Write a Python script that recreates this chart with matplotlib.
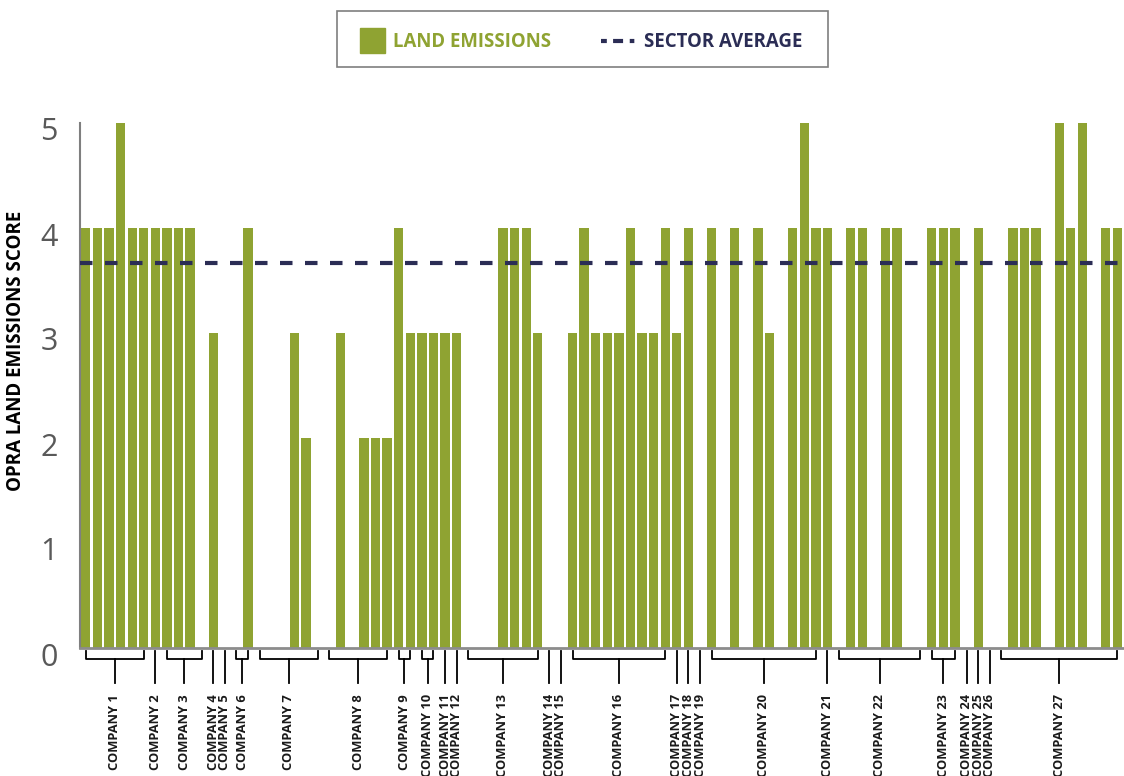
import matplotlib.pyplot as plt
from matplotlib.patches import Rectangle
from matplotlib.lines import Line2D
import matplotlib.transforms as mtransforms

# land emission scores per company (0 = no score for that entity)
companies = ['COMPANY %d' % i for i in range(1, 28)]
scores = [
    [4, 4, 4, 5, 4, 4],
    [4],
    [4, 4, 4, 0],
    [3],
    [0],
    [0, 4],
    [0, 0, 0, 3, 2, 0],
    [0, 3, 0, 2, 2, 2],
    [4, 3],
    [3, 3],
    [3],
    [3],
    [0, 0, 0, 4, 4, 4, 3],
    [0],
    [0],
    [3, 4, 3, 3, 3, 4, 3, 3, 4],
    [3],
    [4],
    [0],
    [4, 0, 4, 0, 4, 3, 0, 4, 5, 4],
    [4],
    [0, 4, 4, 0, 4, 4, 0, 0],
    [4, 4, 4],
    [0],
    [4],
    [0],
    [0, 4, 4, 4, 0, 5, 4, 5, 0, 4, 4],
]
sector_average = 3.67
y_ticks = [0, 1, 2, 3, 4, 5]

GREEN = '#8fa332'
NAVY = '#2b2d55'
GREY = '#595959'

plt.rcParams['font.family'] = ['Open Sans', 'DejaVu Sans']

fig = plt.figure(figsize=(11.24, 7.76), dpi=100)
W, H = 1124, 776
ax = fig.add_axes([80 / W, 1 - 648 / H, 1043 / W, 525 / H])

values = [v for grp in scores for v in grp]
xs = list(range(len(values)))
ax.bar(xs, values, width=0.8, color=GREEN, zorder=2)
ax.axhline(sector_average, color=NAVY, lw=3, ls=(0, (3, 3)), zorder=3)

ax.set_xlim(-0.5, len(values) - 0.5)
ax.set_ylim(0, 5)
ax.set_xticks([])
ax.set_yticks(y_ticks)
ax.tick_params(axis='y', length=0, pad=16, labelsize=22, labelcolor=GREY)
shift = mtransforms.ScaledTranslation(0, -6 / 100, fig.dpi_scale_trans)
for lbl in ax.get_yticklabels():
    lbl.set_transform(lbl.get_transform() + shift)
for s in ['top', 'right']:
    ax.spines[s].set_visible(False)
ax.spines['left'].set_color('#7f7f7f')
ax.spines['left'].set_linewidth(1.5)
ax.spines['bottom'].set_color('#8c8c8c')
ax.spines['bottom'].set_linewidth(2)

fig.text(16 / W, 1 - 351 / H, 'OPRA LAND EMISSIONS SCORE', rotation=90,
         ha='center', va='center', fontsize=13.5, fontweight='bold', color='black')

# brackets under the axis grouping each company's entities
def py(p):
    return (648 - p) / 525.0

trans = ax.get_xaxis_transform()
start = 0
for name, grp in zip(companies, scores):
    a, b = start, start + len(grp) - 1
    mid = (a + b) / 2.0
    if a == b:
        ax.plot([mid, mid], [py(651), py(683)], color='black', lw=1.3,
                transform=trans, clip_on=False)
    else:
        ax.plot([a, a, b, b], [py(651), py(659), py(659), py(651)], color='black',
                lw=1.3, transform=trans, clip_on=False)
        ax.plot([mid, mid], [py(659), py(683)], color='black', lw=1.3,
                transform=trans, clip_on=False)
    ax.text(mid, py(694), name, rotation=90, ha='center', va='top', fontsize=9.3,
            fontweight='bold', color='#1a1a1a', transform=trans, clip_on=False)
    start = b + 1

# legend box at the top
fig.patches.append(Rectangle((337 / W, 1 - 67 / H), 491 / W, 56 / H,
                             transform=fig.transFigure, fill=False,
                             edgecolor='#7f7f7f', lw=1.2))
fig.patches.append(Rectangle((360 / W, 1 - 53 / H), 25 / W, 25 / H,
                             transform=fig.transFigure, color=GREEN))
fig.text(393 / W, 1 - 42 / H, 'LAND EMISSIONS', ha='left', va='center',
         fontsize=13.4, fontweight='bold', color=GREEN)
fig.lines.append(Line2D([601 / W, 635 / W], [1 - 41 / H, 1 - 41 / H],
                        transform=fig.transFigure, color=NAVY, lw=3,
                        solid_capstyle='butt', dash_capstyle='butt',
                        ls=(0, (1.4, 1.5, 2.4, 1.6, 1.1, 10))))
fig.text(644 / W, 1 - 42 / H, 'SECTOR AVERAGE', ha='left', va='center',
         fontsize=13.4, fontweight='bold', color=NAVY)

fig.savefig('out.png', dpi=100)
